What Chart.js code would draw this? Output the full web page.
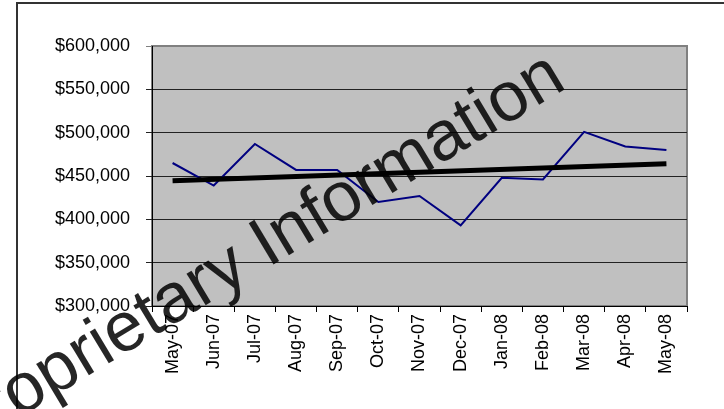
<!DOCTYPE html>
<html lang="en">
<head>
  <meta charset="UTF-8">
  <title>Monthly Revenue</title>
  <script src="https://cdn.jsdelivr.net/npm/chart.js"></script>
  <style>
    body { margin: 0; background: #fff; }
    #chartContainer { width: 724px; height: 409px; }
  </style>
</head>
<body>
  <div id="chartContainer">
    <canvas id="revenueChart" width="724" height="409"></canvas>
  </div>

  <script>
    const months = ['May-07', 'Jun-07', 'Jul-07', 'Aug-07', 'Sep-07', 'Oct-07', 'Nov-07',
                    'Dec-07', 'Jan-08', 'Feb-08', 'Mar-08', 'Apr-08', 'May-08'];
    const revenue = [465000, 439000, 487000, 457000, 457000, 420000, 427000,
                     393000, 448000, 446000, 501000, 484000, 480000];
    // trendline endpoints
    const trendStart = 444500;
    const trendEnd = 464000;
    const yTicks = [300000, 350000, 400000, 450000, 500000, 550000, 600000];

    const FONT = "'Liberation Sans', Arial, sans-serif";

    const frame = {
      id: 'frame',
      beforeDraw(chart) {
        const ctx = chart.ctx;
        const a = chart.chartArea;
        ctx.save();
        ctx.fillStyle = '#fff';
        ctx.fillRect(0, 0, chart.width, chart.height);
        ctx.strokeStyle = '#333';
        ctx.lineWidth = 2;
        ctx.strokeRect(17, 3, chart.width, chart.height);
        ctx.fillStyle = '#c0c0c0';
        ctx.fillRect(a.left, a.top, a.right - a.left, a.bottom - a.top);
        ctx.strokeStyle = '#808080';
        ctx.lineWidth = 2;
        ctx.strokeRect(a.left, a.top, a.right - a.left, a.bottom - a.top);
        ctx.restore();
      }
    };

    const watermark = {
      id: 'watermark',
      afterDraw(chart) {
        const ctx = chart.ctx;
        ctx.save();
        ctx.translate(-42, 454);
        ctx.rotate(-31 * Math.PI / 180);
        ctx.font = '70px ' + FONT;
        ctx.fillStyle = 'rgba(0,0,0,0.85)';
        ctx.textBaseline = 'alphabetic';
        ctx.fillText('Proprietary Information', 0, 0);
        ctx.restore();
      }
    };

    const ctx = document.getElementById('revenueChart').getContext('2d');
    new Chart(ctx, {
      type: 'line',
      data: {
        labels: months,
        datasets: [{
          label: 'Revenue',
          data: revenue,
          borderColor: '#000080',
          borderWidth: 2,
          pointRadius: 0,
          tension: 0,
          order: 2
        }, {
          label: 'Trend',
          data: [{ x: months[0], y: trendStart }, { x: months[months.length - 1], y: trendEnd }],
          borderColor: '#000',
          borderWidth: 5,
          pointRadius: 0,
          tension: 0,
          order: 1
        }]
      },
      options: {
        responsive: false,
        animation: false,
        layout: { padding: { left: 0, top: 46, right: 37, bottom: 0 } },
        plugins: {
          legend: { display: false },
          tooltip: { enabled: false }
        },
        scales: {
          x: {
            offset: true,
            grid: { offset: true, drawOnChartArea: false, tickLength: 6, color: '#000' },
            border: { color: '#000', width: 1 },
            ticks: {
              minRotation: 90, maxRotation: 90, padding: 2,
              color: '#000', font: { family: FONT, size: 18 }
            },
            afterFit(scale) { scale.height = 103; }
          },
          y: {
            min: 300000, max: 600000,
            afterBuildTicks(scale) { scale.ticks = yTicks.map(v => ({ value: v })); },
            grid: {
              tickLength: 6,
              color: c => (c.tick && c.tick.value === 600000) ? '#808080' : '#222'
            },
            border: { color: '#000', width: 1 },
            ticks: {
              padding: 16,
              color: '#000',
              font: { family: FONT, size: 18 },
              callback: v => '$' + v.toLocaleString('en-US')
            },
            afterFit(scale) { scale.width = 152; }
          }
        }
      },
      plugins: [frame, watermark]
    });
  </script>
</body>
</html>
